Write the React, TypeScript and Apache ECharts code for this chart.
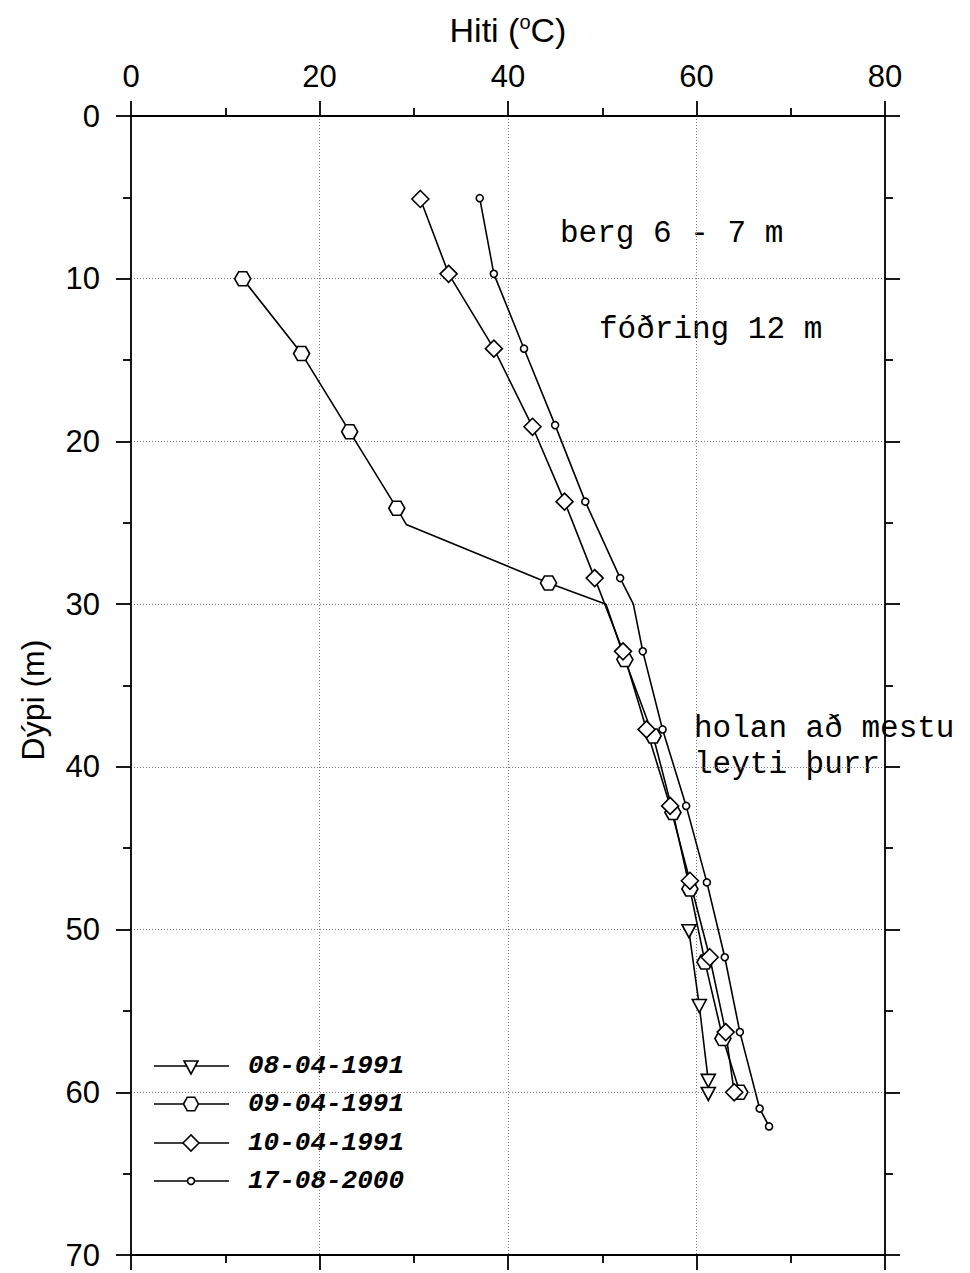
import React, { useEffect, useRef } from "react";
import * as echarts from "echarts";

// ---- data ----
const seriesNames = ["08-04-1991", "09-04-1991", "10-04-1991", "17-08-2000"];

const temp0804 = [59.2, 60.3, 61.25, 61.25];
const depth0804 = [50.1, 54.7, 59.3, 60.1];

const temp0904 = [11.85, 18.1, 23.2, 28.2, 29.2, 44.3, 50.4, 52.4, 55.4, 57.5, 59.3, 60.9, 62.8, 64.6];
const depth0904 = [10.0, 14.6, 19.4, 24.1, 25.1, 28.7, 30.0, 33.4, 38.1, 42.8, 47.5, 52.0, 56.7, 60.0];
const unmarked0904 = [4, 6];

const temp1004 = [30.7, 33.7, 38.5, 42.6, 46.0, 49.2, 52.2, 54.7, 57.2, 59.3, 61.4, 63.1, 64.0];
const depth1004 = [5.1, 9.7, 14.3, 19.1, 23.7, 28.4, 32.9, 37.7, 42.4, 47.0, 51.7, 56.3, 60.0];

const temp1708 = [37.0, 38.5, 41.7, 45.0, 48.2, 51.9, 53.3, 54.3, 56.4, 58.9, 61.1, 63.0, 64.6, 66.7, 67.7];
const depth1708 = [5.05, 9.7, 14.3, 19.0, 23.7, 28.4, 30.0, 32.9, 37.7, 42.4, 47.1, 51.7, 56.3, 61.0, 62.1];
const unmarked1708 = [6];

const xTicks = [0, 20, 40, 60, 80];
const yTicks = [0, 10, 20, 30, 40, 50, 60, 70];

const annotations = [
  { text: "berg 6 - 7 m", x: 560, y: 233 },
  { text: "fóðring 12 m", x: 599, y: 329 },
  { text: "holan að mestu", x: 694, y: 728 },
  { text: "leyti þurr", x: 694, y: 764 },
];

const HEX = "path://M0,5 L3,0 L9,0 L12,5 L9,10 L3,10 Z";

function buildData(t: number[], d: number[], unmarked: number[] = []) {
  return t.map((v, i) =>
    unmarked.includes(i) ? { value: [v, d[i]], symbol: "none" } : { value: [v, d[i]] }
  );
}

export default function App() {
  const ref = useRef<HTMLDivElement>(null);
  useEffect(() => {
    document.body.style.margin = "0";
    const chart = echarts.init(ref.current!, null, { renderer: "svg" });
    const axisLine = { show: true, onZero: false, lineStyle: { color: "#000", width: 1.8 } };
    const axisTick = { show: true, inside: false, length: 15, lineStyle: { color: "#000", width: 1.8 } };
    const minorTick = { show: true, splitNumber: 2, length: 8, lineStyle: { color: "#000", width: 1.8 } };
    const splitLine = { show: true, lineStyle: { color: "#777", width: 1, type: [1, 2] as any } };
    const labelFont = { color: "#000", fontFamily: "Liberation Sans", fontSize: 31 };
    const lineStyle = { color: "#000", width: 1.6 };
    const itemStyle = { color: "#fff", borderColor: "#000", borderWidth: 1.6 };

    const legendY = [1066, 1104, 1143, 1181];
    const legendMarkers: any[] = [
      { type: "polygon", shape: { points: [[-7, -5], [7, -5], [0, 8]] } },
      { type: "polygon", shape: { points: [[-7.5, 0], [-3.7, -6.8], [3.7, -6.8], [7.5, 0], [3.7, 6.8], [-3.7, 6.8]] } },
      { type: "polygon", shape: { points: [[-8, 0], [0, -8], [8, 0], [0, 8]] } },
      { type: "circle", shape: { cx: 0, cy: 0, r: 3.5 } },
    ];
    const legendGraphics = seriesNames.map((name, i) => ({
      type: "group",
      x: 0,
      y: legendY[i],
      children: [
        { type: "line", shape: { x1: 154, y1: 0, x2: 229, y2: 0 }, style: { stroke: "#000", lineWidth: 1.6 } },
        { ...legendMarkers[i], x: 191, y: 0, style: { fill: "#fff", stroke: "#000", lineWidth: 1.6 }, z: 10 },
        {
          type: "text",
          x: 248,
          y: 0,
          style: {
            text: name,
            font: 'italic bold 26px "Liberation Mono"',
            fill: "#000",
            textAlign: "left",
            textVerticalAlign: "middle",
            align: "left",
            verticalAlign: "middle",
          },
        },
      ],
    }));

    const option: any = {
      animation: false,
      backgroundColor: "#fff",
      grid: { left: 131, top: 116, width: 754, height: 1139, containLabel: false },
      xAxis: [
        {
          type: "value", position: "top", min: 0, max: 80, interval: 20,
          axisLine, axisTick, minorTick, splitLine,
          axisLabel: { ...labelFont, margin: 24, customValues: xTicks },
        },
        {
          type: "value", position: "bottom", min: 0, max: 80, interval: 20,
          axisLine, axisTick, minorTick, splitLine: { show: false },
          axisLabel: { show: false },
        },
      ],
      yAxis: [
        {
          type: "value", position: "left", inverse: true, min: 0, max: 70, interval: 10,
          axisLine, axisTick, minorTick, splitLine,
          axisLabel: { ...labelFont, margin: 31, customValues: yTicks },
        },
        {
          type: "value", position: "right", inverse: true, min: 0, max: 70, interval: 10,
          axisLine, axisTick, minorTick, splitLine: { show: false },
          axisLabel: { show: false },
        },
      ],
      series: [
        {
          name: seriesNames[0], type: "line", xAxisIndex: 0, yAxisIndex: 0,
          data: buildData(temp0804, depth0804),
          symbol: "triangle", symbolRotate: 180, symbolSize: [14, 13],
          lineStyle, itemStyle, showAllSymbol: true, emphasis: { disabled: true },
        },
        {
          name: seriesNames[1], type: "line", xAxisIndex: 0, yAxisIndex: 0,
          data: buildData(temp0904, depth0904, unmarked0904),
          symbol: HEX, symbolSize: [16, 14], symbolKeepAspect: false,
          lineStyle, itemStyle, showAllSymbol: true, emphasis: { disabled: true },
        },
        {
          name: seriesNames[2], type: "line", xAxisIndex: 0, yAxisIndex: 0,
          data: buildData(temp1004, depth1004),
          symbol: "diamond", symbolSize: [17, 17],
          lineStyle, itemStyle, showAllSymbol: true, emphasis: { disabled: true },
        },
        {
          name: seriesNames[3], type: "line", xAxisIndex: 0, yAxisIndex: 0,
          data: buildData(temp1708, depth1708, unmarked1708),
          symbol: "circle", symbolSize: 7,
          lineStyle, itemStyle, showAllSymbol: true, emphasis: { disabled: true },
        },
      ],
      graphic: [
        {
          type: "text", x: 508, y: 30,
          style: {
            text: "{a|Hiti (}{s|o}{a|C)}",
            rich: {
              a: { fontSize: 34, fontFamily: "Liberation Sans", fill: "#000", color: "#000", lineHeight: 36 },
              s: { fontSize: 20, fontFamily: "Liberation Sans", fill: "#000", color: "#000", verticalAlign: "top", lineHeight: 20 },
            },
            textAlign: "center", textVerticalAlign: "middle", align: "center", verticalAlign: "middle",
          },
        },
        {
          type: "text", x: 33, y: 700, rotation: Math.PI / 2,
          style: {
            text: "Dýpi (m)",
            font: '32px "Liberation Sans"',
            fill: "#000",
            textAlign: "center", textVerticalAlign: "middle", align: "center", verticalAlign: "middle",
          },
        },
        ...annotations.map((a) => ({
          type: "text", x: a.x, y: a.y,
          style: {
            text: a.text,
            font: '31px "Liberation Mono"',
            fill: "#000",
            textAlign: "left", textVerticalAlign: "middle", align: "left", verticalAlign: "middle",
          },
        })),
        ...legendGraphics,
      ],
    };
    chart.setOption(option);
    return () => chart.dispose();
  }, []);
  return <div ref={ref} style={{ width: 970, height: 1273 }} />;
}
